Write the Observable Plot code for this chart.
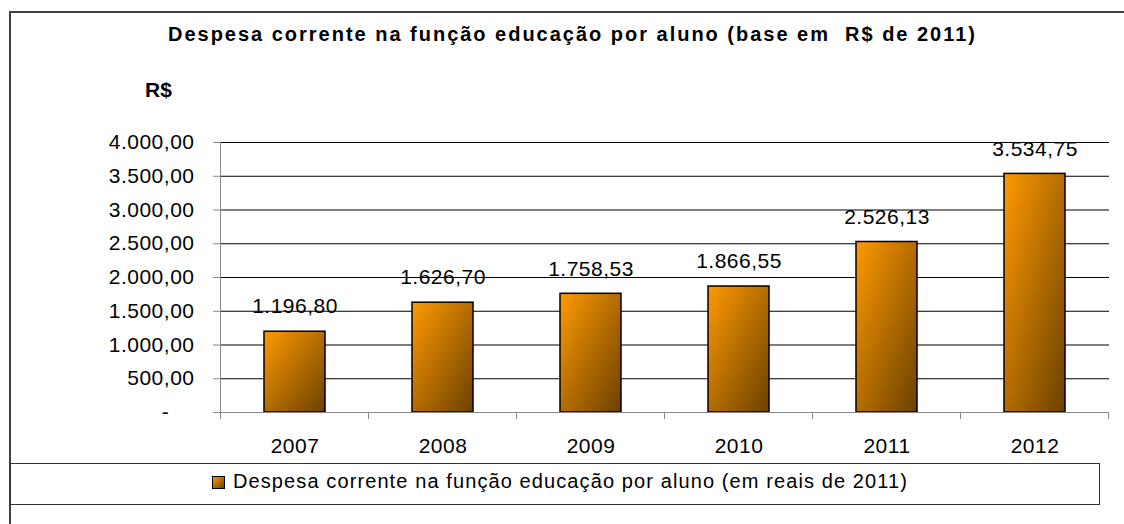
<!DOCTYPE html>
<html>
<head>
<meta charset="utf-8">
<script src="https://cdn.jsdelivr.net/npm/d3@7"></script>
<script src="https://cdn.jsdelivr.net/npm/@observablehq/plot@0.6"></script>
<style>
  html, body { margin: 0; padding: 0; background: #fff; }
  #wrap { position: relative; width: 1124px; height: 524px; overflow: hidden; font-family: "Liberation Sans", Arial, sans-serif; color: #000; }
  #frame { position: absolute; left: 9px; top: 11px; width: 1200px; height: 600px; border-left: 2px solid #404040; border-top: 2px solid #404040; }
  #header { position: relative; height: 100px; }
  #title { position: absolute; left: 168px; top: 24px; font-weight: bold; font-size: 20px; line-height: 20px; white-space: pre; }
  #rs { position: absolute; left: 145px; top: 79px; font-weight: bold; font-size: 21px; line-height: 21px; white-space: pre; }
  #legend { position: absolute; left: 10px; top: 463px; width: 1090px; height: 42px; box-sizing: border-box; border: 1.5px solid #333; }
  #swatch { position: absolute; left: 201px; top: 12px; width: 13px; height: 13px; box-sizing: border-box; border: 1px solid #000; background: linear-gradient(to bottom right, #FF9900, #6B4100); }
  #legtext { position: absolute; left: 222px; top: 7px; font-size: 20px; line-height: 20px; white-space: pre; }
  #chart svg text { letter-spacing: 0.5px; }
</style>
</head>
<body>
<div id="wrap">
  <div id="frame"></div>
  <div id="header">
    <span id="title"></span>
    <span id="rs">R$</span>
  </div>
  <div id="chart"></div>
  <div id="legend"><div id="swatch"></div><span id="legtext"></span></div>
</div>
<script>
const titleText = "Despesa corrente na função educação por aluno (base em  R$ de 2011)";
const legendText = "Despesa corrente na função educação por aluno (em reais de 2011)";
const years = ["2007", "2008", "2009", "2010", "2011", "2012"];
const values = [1196.80, 1626.70, 1758.53, 1866.55, 2526.13, 3534.75];
const yTicks = [0, 500, 1000, 1500, 2000, 2500, 3000, 3500, 4000];

const data = years.map((y, i) => ({year: y, value: values[i]}));
const br = d3.formatLocale({decimal: ",", thousands: ".", grouping: [3], currency: ["R$", ""]});
const fmt = br.format(",.2f");
const tickFmt = v => v === 0 ? "-\u00a0\u00a0\u00a0\u00a0" : fmt(v);

document.getElementById("title").textContent = titleText;
document.getElementById("legtext").textContent = legendText;

function fitWidth(el, target) {
  el.style.letterSpacing = "0px";
  const w = el.getBoundingClientRect().width;
  const n = el.textContent.length;
  el.style.letterSpacing = ((target - w) / n) + "px";
}
fitWidth(document.getElementById("title"), 809);
fitWidth(document.getElementById("legtext"), 675);

function gradientDefs() {
  const defs = d3.create("svg:defs");
  const g = defs.append("linearGradient").attr("id", "barGrad")
    .attr("x1", 0).attr("y1", 0).attr("x2", 1).attr("y2", 1);
  g.append("stop").attr("offset", "0%").attr("stop-color", "#FF9900");
  g.append("stop").attr("offset", "100%").attr("stop-color", "#6B4100");
  return defs.node();
}

function boundaryTicks(index, scales) {
  const x = scales.x, y = scales.y;
  const step = x(years[1]) - x(years[0]);
  const bw = x.bandwidth ? x.bandwidth() : step * 0.41;
  const y0 = y(0);
  const xs = years.map(yr => x(yr) + bw / 2 - step / 2);
  xs.push(xs[xs.length - 1] + step);
  const g = d3.create("svg:g").attr("stroke", "#888").attr("stroke-width", 1);
  for (const xx of xs) {
    g.append("line").attr("x1", xx).attr("x2", xx).attr("y1", y0).attr("y2", y0 + 7);
  }
  return g.node();
}

const plot = Plot.plot({
  width: 1124,
  height: 360,
  marginTop: 42,
  marginBottom: 48,
  marginLeft: 220,
  marginRight: 15,
  style: {fontFamily: "'Liberation Sans', Arial, sans-serif", fontSize: "21px", color: "#000", background: "transparent"},
  x: {type: "band", domain: years, paddingInner: 0.59, paddingOuter: 0.295, label: null},
  y: {domain: [0, 4000], label: null},
  marks: [
    gradientDefs,
    Plot.ruleY(yTicks.filter(d => d > 0), {stroke: "#000", strokeWidth: 1}),
    Plot.barY(data, {x: "year", y: "value", fill: "url(#barGrad)", stroke: "#000", strokeWidth: 1.5}),
    Plot.frame({anchor: "left", stroke: "#888"}),
    Plot.ruleY([0], {stroke: "#888", strokeWidth: 1}),
    boundaryTicks,
    Plot.text(data, {x: "year", y: "value", text: d => fmt(d.value), dy: -25, fontSize: 21, fill: "#000"}),
    Plot.axisY({ticks: yTicks, tickSize: 7, tickPadding: 19, tickFormat: tickFmt, stroke: "#888", fill: "#000", fontSize: 21, label: null}),
    Plot.axisX({tickSize: 0, tickPadding: 26, fontSize: 21, fill: "#000", label: null})
  ]
});
document.getElementById("chart").appendChild(plot);
</script>
</body>
</html>
